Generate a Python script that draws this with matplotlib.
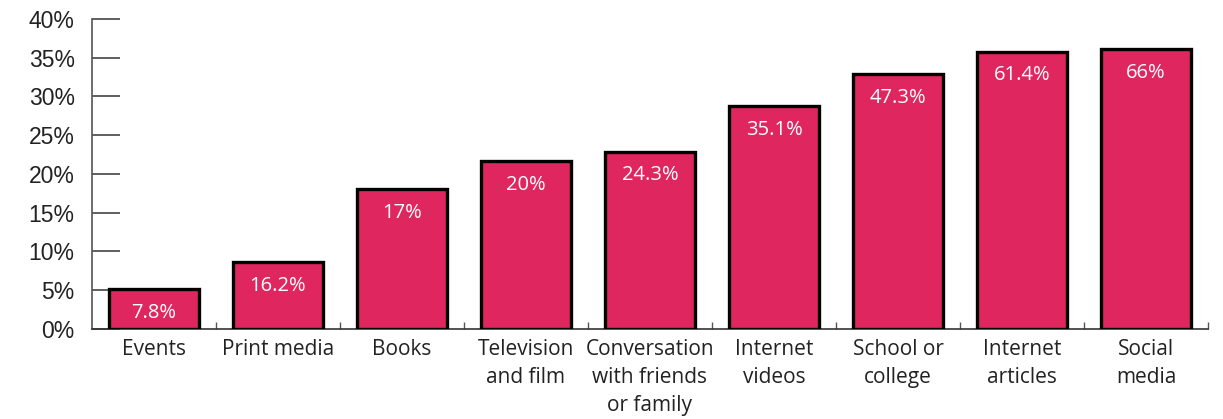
import matplotlib.pyplot as plt
from matplotlib.ticker import FixedLocator, PercentFormatter

categories = [
    "Events", "Print media", "Books", "Television\nand film",
    "Conversation\nwith friends\nor family", "Internet\nvideos",
    "School or\ncollege", "Internet\narticles", "Social\nmedia",
]
share = [5.1, 8.6, 18.1, 21.7, 22.9, 28.8, 32.9, 35.8, 36.1]
bar_labels = ["7.8%", "16.2%", "17%", "20%", "24.3%", "35.1%", "47.3%", "61.4%", "66%"]

fig = plt.figure(figsize=(12.23, 4.19), dpi=100)
ax = fig.add_axes([0.0752, 0.2148, 0.9125, 0.7399])

x = range(len(categories))
bars = ax.bar(x, share, width=0.72, color="#E0265F", edgecolor="black",
              linewidth=2.4, zorder=3)

for bar, lab in zip(bars, bar_labels):
    ax.annotate(lab, (bar.get_x() + bar.get_width() / 2, bar.get_height()),
                xytext=(0, -10), textcoords="offset points",
                ha="center", va="top", color="white",
                fontsize=14.5, family="Open Sans", zorder=4)

ax.set_xlim(-0.5, len(categories) - 0.5)
ax.set_ylim(0, 40)
ax.yaxis.set_major_locator(FixedLocator(range(0, 41, 5)))
ax.yaxis.set_major_formatter(PercentFormatter(decimals=0))

ax.set_xticks(list(x))
ax.set_xticklabels(categories, family="Open Sans", fontsize=15,
                   color="#222222", linespacing=1.45)
ax.tick_params(axis="x", length=0, pad=7)
ax.set_xticks([i + 0.5 for i in range(len(categories))], minor=True)
ax.tick_params(axis="x", which="minor", direction="in", length=5,
               width=1, color="#555555")

ax.tick_params(axis="y", direction="in", length=20, width=1.2,
               color="#444444", pad=12.5, labelsize=16.5)
for t in ax.get_yticklabels():
    t.set_family("Liberation Sans")
    t.set_color("#222222")

for side in ["top", "right"]:
    ax.spines[side].set_visible(False)
ax.spines["left"].set_color("#555555")
ax.spines["left"].set_linewidth(1.2)
ax.spines["bottom"].set_color("#333333")
ax.spines["bottom"].set_linewidth(1.2)

fig.savefig("out.png", dpi=100, facecolor="white")
